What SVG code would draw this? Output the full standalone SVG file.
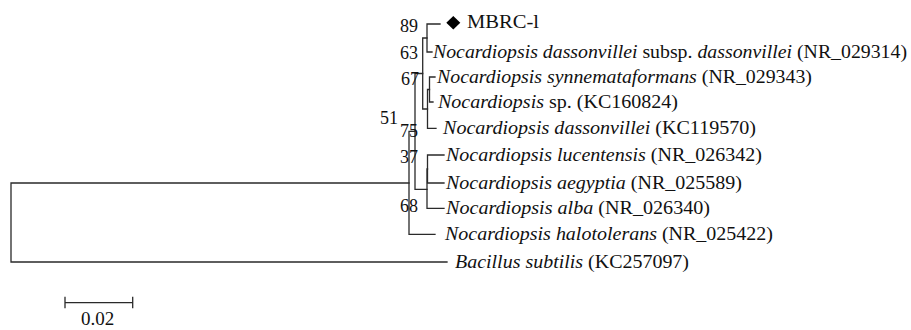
<svg xmlns="http://www.w3.org/2000/svg" width="911" height="330" viewBox="0 0 911 330">
<style>
.br{fill:none;stroke:#2a2a2a;stroke-width:1.3;stroke-linecap:square}
.t{font-family:"Liberation Serif","Times New Roman",serif;font-size:19px;fill:#111}
.i{font-style:italic}
.bs{font-family:"Liberation Serif","Times New Roman",serif;font-size:18px;fill:#111;text-anchor:end}
</style>
<rect width="911" height="330" fill="#fff"/>
<g id="connectors" class="br">
<path d="M11,183V262M11,183H409M11,262H447"/>
<path d="M409,131.4V234.3M409,234.3H435M409,131.4H415"/>
<path d="M415,73.5V189.3M415,73.5H422.7M415,189.3H427"/>
<path d="M422.7,38V109M422.7,38H427M422.7,109H427.5"/>
<path d="M427,24V52M427,24H440M427,52H432"/>
<path d="M427.5,89.5V128.3M427.5,89.5H429.5M427.5,128.3H436"/>
<path d="M429.5,77V102M429.5,77H435M429.5,102H433"/>
<path d="M427,169V208.3M427,208.3H444M427,169H427.5"/>
<path d="M427.5,155V183M427.5,155H444M427.5,183H444"/>
</g>
<g id="bootstrap">
<g id="n89"><text class="bs" x="418" y="32">89</text></g>
<g id="n63"><text class="bs" x="418" y="59">63</text></g>
<g id="n67"><text class="bs" x="419" y="85">67</text></g>
<g id="n51"><text class="bs" x="398" y="124">51</text></g>
<g id="n75"><text class="bs" x="418" y="137">75</text></g>
<g id="n37"><text class="bs" x="418" y="163">37</text></g>
<g id="n68"><text class="bs" x="418" y="212">68</text></g>
</g>
<g id="leaf-MBRC">
<polygon points="453.3,16 460.3,22.8 453.3,29.6 446.3,22.8" fill="#000"/>
<text class="t" x="467" y="28" textLength="72" lengthAdjust="spacingAndGlyphs">MBRC-l</text>
</g>
<g id="leaf-dass-subsp"><text class="t" x="433" y="58" textLength="474" lengthAdjust="spacingAndGlyphs"><tspan class="i">Nocardiopsis dassonvillei</tspan> subsp. <tspan class="i">dassonvillei</tspan> (NR_029314)</text></g>
<g id="leaf-synn"><text class="t" x="437" y="83" textLength="375" lengthAdjust="spacingAndGlyphs"><tspan class="i">Nocardiopsis synnemataformans</tspan> (NR_029343)</text></g>
<g id="leaf-sp"><text class="t" x="438" y="108" textLength="240" lengthAdjust="spacingAndGlyphs"><tspan class="i">Nocardiopsis</tspan> sp. (KC160824)</text></g>
<g id="leaf-dass-KC"><text class="t" x="443" y="134" textLength="313" lengthAdjust="spacingAndGlyphs"><tspan class="i">Nocardiopsis dassonvillei</tspan> (KC119570)</text></g>
<g id="leaf-lucentensis"><text class="t" x="446" y="161" textLength="316" lengthAdjust="spacingAndGlyphs"><tspan class="i">Nocardiopsis lucentensis</tspan> (NR_026342)</text></g>
<g id="leaf-aegyptia"><text class="t" x="446" y="189" textLength="296" lengthAdjust="spacingAndGlyphs"><tspan class="i">Nocardiopsis aegyptia</tspan> (NR_025589)</text></g>
<g id="leaf-alba"><text class="t" x="446" y="214" textLength="264" lengthAdjust="spacingAndGlyphs"><tspan class="i">Nocardiopsis alba</tspan> (NR_026340)</text></g>
<g id="leaf-halotolerans"><text class="t" x="445" y="240" textLength="328" lengthAdjust="spacingAndGlyphs"><tspan class="i">Nocardiopsis halotolerans</tspan> (NR_025422)</text></g>
<g id="leaf-bacillus"><text class="t" x="455" y="268" textLength="234" lengthAdjust="spacingAndGlyphs"><tspan class="i">Bacillus subtilis</tspan> (KC257097)</text></g>
<g id="scale">
<path class="br" d="M65,302.7H132.7M65,297.5V307.5M132.7,297.5V307.5"/>
<text class="t" x="97.5" y="325" text-anchor="middle">0.02</text>
</g>
</svg>
